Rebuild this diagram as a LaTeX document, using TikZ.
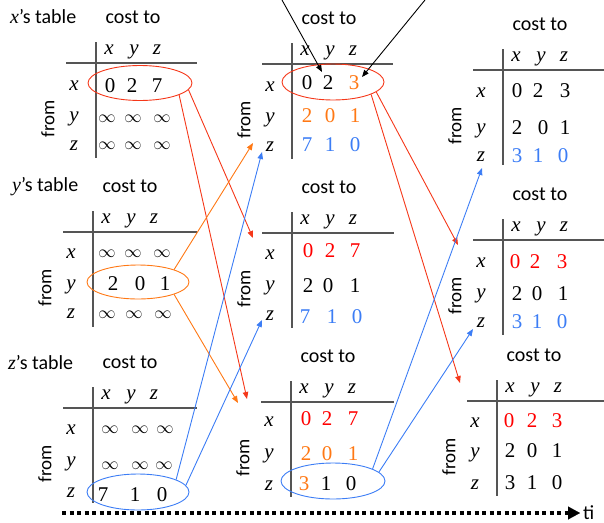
\documentclass[tikz,border=0pt]{standalone}
\usepackage{fontspec}
\setmainfont{Liberation Serif}
\newfontfamily\sansfnt{Carlito}
\usetikzlibrary{shapes.geometric,arrows.meta}
\definecolor{cred}{RGB}{255,0,0}
\definecolor{ared}{RGB}{245,55,25}
\definecolor{corange}{RGB}{255,120,20}
\definecolor{cblue}{RGB}{60,125,245}
\definecolor{rulegray}{RGB}{85,85,85}
\tikzset{
  ct/.style={font=\sansfnt\fontsize{20}{24}\selectfont, inner sep=0pt},
  fr/.style={font=\sansfnt\fontsize{19}{22}\selectfont, inner sep=0pt, rotate=90},
  lab/.style={font=\rmfamily\fontsize{21}{24}\selectfont\itshape, inner sep=0pt, anchor=base},
  val/.style={font=\rmfamily\fontsize{21}{24}\selectfont, inner sep=0pt, anchor=base},
  inf/.style={font=\fontsize{17}{20}\selectfont, inner sep=0pt, anchor=base},
  rulel/.style={draw=rulegray, line width=1.2pt},
  oval/.style={ellipse, draw, line width=0.9pt, inner sep=0pt},
  arr/.style={line width=0.9pt, -{Triangle[length=7pt,width=5.5pt]}},
}
% #1 name, #2 vx, #3 hy, #4-#6 row baselines, #7 right end of rule
\newcommand\costframe[7]{%
  \node[ct] (#1cost) at (#2+37,#3-46) {cost to};
  \node[lab] (#1hx) at (#2+13,#3-9) {x};
  \node[lab] (#1hy) at (#2+38,#3-9) {y};
  \node[lab] (#1hz) at (#2+61,#3-9) {z};
  \draw[rulel] (#2-30,#3) -- (#7,#3);
  \draw[rulel] (#2,#3-21) -- (#2,#3+95);
  \node[lab] (#1rx) at (#2-22,#4) {x};
  \node[lab] (#1ry) at (#2-22,#5) {y};
  \node[lab] (#1rz) at (#2-22,#6) {z};
  \node[fr] (#1from) at (#2-48,#3+56) {from};
}
\begin{document}
\begin{tikzpicture}[x=1pt,y=-1pt]
\useasboundingbox (0,0) rectangle (604,522);

% titles
\node[ct, anchor=west] (xtab) at (10,17) {{\rmfamily\itshape x}’s table};
\node[ct, anchor=west] (ytab) at (12,187) {{\rmfamily\itshape y}’s table};
\node[ct, anchor=west] (ztab) at (8,363) {{\rmfamily\itshape z}’s table};

% ---------- left column ----------
\costframe{L1}{96}{63}{90}{121}{150}{197}
\node[val] (L1xx) at (110,92) {0};
\node[val] (L1xy) at (132,92) {2};
\node[val] (L1xz) at (157,92) {7};
\node[inf] (L1yx) at (107,122) {$\infty$};
\node[inf] (L1yy) at (133,122) {$\infty$};
\node[inf] (L1yz) at (162,122) {$\infty$};
\node[inf] (L1zx) at (107,149) {$\infty$};
\node[inf] (L1zy) at (133,149) {$\infty$};
\node[inf] (L1zz) at (162,149) {$\infty$};

\costframe{L2}{93}{232}{258}{289}{318}{197}
\node[inf] (L2xx) at (107,257) {$\infty$};
\node[inf] (L2xy) at (133,257) {$\infty$};
\node[inf] (L2xz) at (162,257) {$\infty$};
\node[val] (L2yx) at (113,290) {2};
\node[val] (L2yy) at (140,290) {0};
\node[val] (L2yz) at (165,290) {1};
\node[inf] (L2zx) at (107,318) {$\infty$};
\node[inf] (L2zy) at (134,318) {$\infty$};
\node[inf] (L2zz) at (163,318) {$\infty$};

\costframe{L3}{93}{408}{434}{466}{497}{197}
\node[inf] (L3xx) at (110,433) {$\infty$};
\node[inf] (L3xy) at (140,433) {$\infty$};
\node[inf] (L3xz) at (165,433) {$\infty$};
\node[inf] (L3yx) at (110,469) {$\infty$};
\node[inf] (L3yy) at (140,469) {$\infty$};
\node[inf] (L3yz) at (164,469) {$\infty$};
\node[val] (L3zx) at (103,501) {7};
\node[val] (L3zy) at (135,501) {1};
\node[val] (L3zz) at (162,501) {0};

% ---------- middle column ----------
\costframe{M1}{292}{64}{91}{122}{151}{393}
\node[val] (M1xx) at (307,89) {0};
\node[val] (M1xy) at (328,89) {2};
\node[val, text=corange] (M1xz) at (354,89) {3};
\node[val, text=corange] (M1yx) at (307,122) {2};
\node[val, text=corange] (M1yy) at (330,122) {0};
\node[val, text=corange] (M1yz) at (355,122) {1};
\node[val, text=cblue] (M1zx) at (307,151) {7};
\node[val, text=cblue] (M1zy) at (330,151) {1};
\node[val, text=cblue] (M1zz) at (355,151) {0};

\costframe{M2}{292}{233}{259}{290}{320}{394}
\node[val, text=cred] (M2xx) at (308,257) {0};
\node[val, text=cred] (M2xy) at (330,257) {2};
\node[val, text=cred] (M2xz) at (355,257) {7};
\node[val] (M2yx) at (308,292) {2};
\node[val] (M2yy) at (328,292) {0};
\node[val] (M2yz) at (355,292) {1};
\node[val, text=cblue] (M2zx) at (305,323) {7};
\node[val, text=cblue] (M2zy) at (332,323) {1};
\node[val, text=cblue] (M2zz) at (357,323) {0};

\costframe{M3}{291}{402}{426}{458}{490}{394}
\node[val, text=cred] (M3xx) at (306,425) {0};
\node[val, text=cred] (M3xy) at (327,425) {2};
\node[val, text=cred] (M3xz) at (353,425) {7};
\node[val, text=corange] (M3yx) at (306,460) {2};
\node[val, text=corange] (M3yy) at (327,460) {0};
\node[val, text=corange] (M3yz) at (353,460) {1};
\node[val, text=corange] (M3zx) at (304,490) {3};
\node[val] (M3zy) at (326,490) {1};
\node[val] (M3zz) at (351,490) {0};

% ---------- right column ----------
\costframe{R1}{503}{70}{97}{133}{161}{604}
\node[val] (R1xx) at (517,97) {0};
\node[val] (R1xy) at (538,97) {2};
\node[val] (R1xz) at (565,97) {3};
\node[val] (R1yx) at (517,134) {2};
\node[val] (R1yy) at (543,134) {0};
\node[val] (R1yz) at (565,134) {1};
\node[val, text=cblue] (R1zx) at (517,162) {3};
\node[val, text=cblue] (R1zy) at (538,162) {1};
\node[val, text=cblue] (R1zz) at (563,162) {0};

\costframe{R2}{503}{240}{267}{298}{327}{604}
\node[val, text=cred] (R2xx) at (515,268) {0};
\node[val, text=cred] (R2xy) at (535,268) {2};
\node[val, text=cred] (R2xz) at (562,268) {3};
\node[val] (R2yx) at (517,300) {2};
\node[val] (R2yy) at (537,300) {0};
\node[val] (R2yz) at (563,300) {1};
\node[val, text=cblue] (R2zx) at (517,328) {3};
\node[val, text=cblue] (R2zy) at (537,328) {1};
\node[val, text=cblue] (R2zz) at (562,328) {0};

\costframe{R3}{497}{401}{427}{457}{489}{604}
\node[val, text=cred] (R3xx) at (509,427) {0};
\node[val, text=cred] (R3xy) at (532,427) {2};
\node[val, text=cred] (R3xz) at (557,427) {3};
\node[val] (R3yx) at (510,457) {2};
\node[val] (R3yy) at (532,457) {0};
\node[val] (R3yz) at (557,457) {1};
\node[val] (R3zx) at (510,489) {3};
\node[val] (R3zy) at (532,489) {1};
\node[val] (R3zz) at (557,489) {0};

% ---------- ellipses ----------
\node[oval, draw=ared, minimum width=104pt, minimum height=35pt] (eL1) at (140,83) {};
\node[oval, draw=corange, minimum width=102pt, minimum height=34pt] (eL2) at (138,282) {};
\node[oval, draw=cblue, minimum width=102pt, minimum height=36pt] (eL3) at (138,492) {};
\node[oval, draw=ared, minimum width=102pt, minimum height=36pt] (eM1) at (333,82) {};
\node[oval, draw=cblue, minimum width=104pt, minimum height=36pt] (eM3) at (333,481) {};

% ---------- arrow end points ----------
\coordinate (tM2r) at (253,238);
\coordinate (tM3r) at (247,399);
\coordinate (tM1o) at (253,143);
\coordinate (tM3o) at (238,403);
\coordinate (tM1b) at (262,152);
\coordinate (tM2b) at (262,320);
\coordinate (tR2r) at (458,245);
\coordinate (tR3r) at (460,383);
\coordinate (tR1b) at (482,168);
\coordinate (tR2b) at (473,329);
\coordinate (s1) at (282,0);
\coordinate (s2) at (425,0);
\coordinate (tk1) at (322,72);
\coordinate (tk2) at (362,77);

\draw[arr, ared] (eL1.-8) -- (tM2r);
\draw[arr, ared] (eL1.-17) -- (tM3r);
\draw[arr, corange] (eL2.19) -- (tM1o);
\draw[arr, corange] (eL2.-19) -- (tM3o);
\draw[arr, cblue] (eL3.18) -- (tM1b);
\draw[arr, cblue] (eL3.8) -- (tM2b);
\draw[arr, ared] (eM1.-13) -- (tR2r);
\draw[arr, ared] (eM1.-18) -- (tR3r);
\draw[arr, cblue] (eM3.17) -- (tR1b);
\draw[arr, cblue] (eM3.11) -- (tR2b);
\draw[arr, black] (s1) -- (tk1);
\draw[arr, black] (s2) -- (tk2);

% ---------- time axis ----------
\coordinate (ts) at (62,513);
\coordinate (te) at (580,513);
\draw[line width=4pt, dash pattern=on 4pt off 3.5pt,
      -{Triangle[length=12pt,width=13pt,line width=0.1pt]}] (ts) -- (te);
\node[ct, anchor=base west] (time) at (583,519) {ti};
\end{tikzpicture}
\end{document}
